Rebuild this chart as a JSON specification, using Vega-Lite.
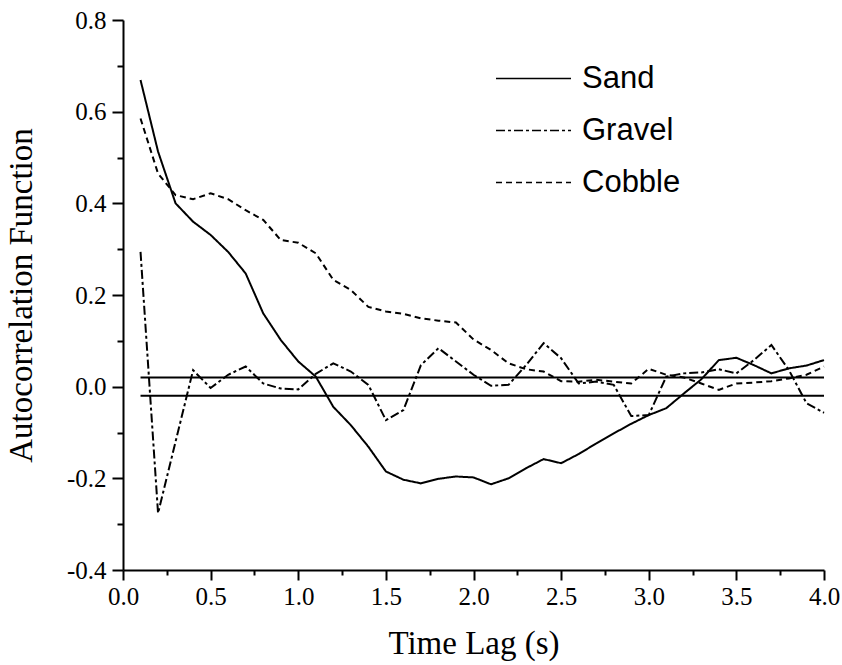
{
  "$schema": "https://vega.github.io/schema/vega-lite/v6.json",
  "width": 701,
  "height": 550,
  "autosize": "none",
  "padding": {"left": 123, "top": 20, "right": 18, "bottom": 95},
  "background": "white",
  "config": {
    "view": {"stroke": null},
    "axis": {
      "grid": false,
      "domainColor": "black",
      "domainWidth": 2,
      "tickColor": "black",
      "tickWidth": 2,
      "labelColor": "black",
      "labelFont": "Liberation Serif",
      "labelFontSize": 25,
      "titleFont": "Liberation Serif",
      "titleFontSize": 33,
      "titleFontWeight": "normal",
      "titleColor": "black"
    }
  },
  "datasets": {
    "acf": [
      {"series": "Sand", "lag": 0.1, "acf": 0.669},
      {"series": "Sand", "lag": 0.2, "acf": 0.513},
      {"series": "Sand", "lag": 0.3, "acf": 0.40},
      {"series": "Sand", "lag": 0.4, "acf": 0.36},
      {"series": "Sand", "lag": 0.5, "acf": 0.331},
      {"series": "Sand", "lag": 0.6, "acf": 0.294},
      {"series": "Sand", "lag": 0.7, "acf": 0.247},
      {"series": "Sand", "lag": 0.8, "acf": 0.16},
      {"series": "Sand", "lag": 0.9, "acf": 0.102},
      {"series": "Sand", "lag": 1.0, "acf": 0.055},
      {"series": "Sand", "lag": 1.1, "acf": 0.022},
      {"series": "Sand", "lag": 1.2, "acf": -0.044},
      {"series": "Sand", "lag": 1.3, "acf": -0.084},
      {"series": "Sand", "lag": 1.4, "acf": -0.131},
      {"series": "Sand", "lag": 1.5, "acf": -0.185},
      {"series": "Sand", "lag": 1.6, "acf": -0.203},
      {"series": "Sand", "lag": 1.7, "acf": -0.211},
      {"series": "Sand", "lag": 1.8, "acf": -0.201},
      {"series": "Sand", "lag": 1.9, "acf": -0.196},
      {"series": "Sand", "lag": 2.0, "acf": -0.198},
      {"series": "Sand", "lag": 2.1, "acf": -0.213},
      {"series": "Sand", "lag": 2.2, "acf": -0.2},
      {"series": "Sand", "lag": 2.3, "acf": -0.178},
      {"series": "Sand", "lag": 2.4, "acf": -0.158},
      {"series": "Sand", "lag": 2.5, "acf": -0.167},
      {"series": "Sand", "lag": 2.6, "acf": -0.147},
      {"series": "Sand", "lag": 2.7, "acf": -0.124},
      {"series": "Sand", "lag": 2.8, "acf": -0.102},
      {"series": "Sand", "lag": 2.9, "acf": -0.081},
      {"series": "Sand", "lag": 3.0, "acf": -0.062},
      {"series": "Sand", "lag": 3.1, "acf": -0.047},
      {"series": "Sand", "lag": 3.2, "acf": -0.015},
      {"series": "Sand", "lag": 3.3, "acf": 0.016},
      {"series": "Sand", "lag": 3.4, "acf": 0.058},
      {"series": "Sand", "lag": 3.5, "acf": 0.063},
      {"series": "Sand", "lag": 3.6, "acf": 0.047},
      {"series": "Sand", "lag": 3.7, "acf": 0.029},
      {"series": "Sand", "lag": 3.8, "acf": 0.04},
      {"series": "Sand", "lag": 3.9, "acf": 0.046},
      {"series": "Sand", "lag": 4.0, "acf": 0.058},
      {"series": "Gravel", "lag": 0.1, "acf": 0.294},
      {"series": "Gravel", "lag": 0.2, "acf": -0.276},
      {"series": "Gravel", "lag": 0.3, "acf": -0.12},
      {"series": "Gravel", "lag": 0.4, "acf": 0.036},
      {"series": "Gravel", "lag": 0.5, "acf": -0.003},
      {"series": "Gravel", "lag": 0.6, "acf": 0.026},
      {"series": "Gravel", "lag": 0.7, "acf": 0.044},
      {"series": "Gravel", "lag": 0.8, "acf": 0.007},
      {"series": "Gravel", "lag": 0.9, "acf": -0.004},
      {"series": "Gravel", "lag": 1.0, "acf": -0.006},
      {"series": "Gravel", "lag": 1.1, "acf": 0.028},
      {"series": "Gravel", "lag": 1.2, "acf": 0.051},
      {"series": "Gravel", "lag": 1.3, "acf": 0.033},
      {"series": "Gravel", "lag": 1.4, "acf": 0.004},
      {"series": "Gravel", "lag": 1.5, "acf": -0.073},
      {"series": "Gravel", "lag": 1.6, "acf": -0.051},
      {"series": "Gravel", "lag": 1.7, "acf": 0.047},
      {"series": "Gravel", "lag": 1.8, "acf": 0.084},
      {"series": "Gravel", "lag": 1.9, "acf": 0.055},
      {"series": "Gravel", "lag": 2.0, "acf": 0.026},
      {"series": "Gravel", "lag": 2.1, "acf": 0.002},
      {"series": "Gravel", "lag": 2.2, "acf": 0.004},
      {"series": "Gravel", "lag": 2.3, "acf": 0.047},
      {"series": "Gravel", "lag": 2.4, "acf": 0.095},
      {"series": "Gravel", "lag": 2.5, "acf": 0.062},
      {"series": "Gravel", "lag": 2.6, "acf": 0.007},
      {"series": "Gravel", "lag": 2.7, "acf": 0.011},
      {"series": "Gravel", "lag": 2.8, "acf": 0.004},
      {"series": "Gravel", "lag": 2.9, "acf": -0.064},
      {"series": "Gravel", "lag": 3.0, "acf": -0.062},
      {"series": "Gravel", "lag": 3.1, "acf": 0.022},
      {"series": "Gravel", "lag": 3.2, "acf": 0.029},
      {"series": "Gravel", "lag": 3.3, "acf": 0.031},
      {"series": "Gravel", "lag": 3.4, "acf": 0.038},
      {"series": "Gravel", "lag": 3.5, "acf": 0.029},
      {"series": "Gravel", "lag": 3.6, "acf": 0.058},
      {"series": "Gravel", "lag": 3.7, "acf": 0.091},
      {"series": "Gravel", "lag": 3.8, "acf": 0.036},
      {"series": "Gravel", "lag": 3.9, "acf": -0.036},
      {"series": "Gravel", "lag": 4.0, "acf": -0.057},
      {"series": "Cobble", "lag": 0.1, "acf": 0.585},
      {"series": "Cobble", "lag": 0.2, "acf": 0.465},
      {"series": "Cobble", "lag": 0.3, "acf": 0.418},
      {"series": "Cobble", "lag": 0.4, "acf": 0.409},
      {"series": "Cobble", "lag": 0.5, "acf": 0.422},
      {"series": "Cobble", "lag": 0.6, "acf": 0.409},
      {"series": "Cobble", "lag": 0.7, "acf": 0.385},
      {"series": "Cobble", "lag": 0.8, "acf": 0.364},
      {"series": "Cobble", "lag": 0.9, "acf": 0.32},
      {"series": "Cobble", "lag": 1.0, "acf": 0.314},
      {"series": "Cobble", "lag": 1.1, "acf": 0.291},
      {"series": "Cobble", "lag": 1.2, "acf": 0.233},
      {"series": "Cobble", "lag": 1.3, "acf": 0.211},
      {"series": "Cobble", "lag": 1.4, "acf": 0.174},
      {"series": "Cobble", "lag": 1.5, "acf": 0.164},
      {"series": "Cobble", "lag": 1.6, "acf": 0.159},
      {"series": "Cobble", "lag": 1.7, "acf": 0.149},
      {"series": "Cobble", "lag": 1.8, "acf": 0.144},
      {"series": "Cobble", "lag": 1.9, "acf": 0.14},
      {"series": "Cobble", "lag": 2.0, "acf": 0.103},
      {"series": "Cobble", "lag": 2.1, "acf": 0.08},
      {"series": "Cobble", "lag": 2.2, "acf": 0.051},
      {"series": "Cobble", "lag": 2.3, "acf": 0.038},
      {"series": "Cobble", "lag": 2.4, "acf": 0.033},
      {"series": "Cobble", "lag": 2.5, "acf": 0.012},
      {"series": "Cobble", "lag": 2.6, "acf": 0.011},
      {"series": "Cobble", "lag": 2.7, "acf": 0.015},
      {"series": "Cobble", "lag": 2.8, "acf": 0.011},
      {"series": "Cobble", "lag": 2.9, "acf": 0.007},
      {"series": "Cobble", "lag": 3.0, "acf": 0.039},
      {"series": "Cobble", "lag": 3.1, "acf": 0.026},
      {"series": "Cobble", "lag": 3.2, "acf": 0.02},
      {"series": "Cobble", "lag": 3.3, "acf": 0.007},
      {"series": "Cobble", "lag": 3.4, "acf": -0.007},
      {"series": "Cobble", "lag": 3.5, "acf": 0.007},
      {"series": "Cobble", "lag": 3.6, "acf": 0.009},
      {"series": "Cobble", "lag": 3.7, "acf": 0.012},
      {"series": "Cobble", "lag": 3.8, "acf": 0.018},
      {"series": "Cobble", "lag": 3.9, "acf": 0.026},
      {"series": "Cobble", "lag": 4.0, "acf": 0.044}
    ],
    "bounds": [
      {"start": 0.1, "end": 4.0, "level": 0.02},
      {"start": 0.1, "end": 4.0, "level": -0.02}
    ]
  },
  "layer": [
    {
      "data": {"name": "bounds"},
      "mark": {"type": "rule", "color": "black", "strokeWidth": 2},
      "encoding": {
        "x": {"field": "start", "type": "quantitative", "scale": {"domain": [0, 4], "nice": false, "zero": false}},
        "x2": {"field": "end"},
        "y": {"field": "level", "type": "quantitative", "scale": {"domain": [-0.4, 0.8], "nice": false, "zero": false}}
      }
    },
    {
      "data": {"name": "acf"},
      "mark": {"type": "line", "color": "black", "strokeWidth": 2},
      "encoding": {
        "x": {
          "field": "lag", "type": "quantitative",
          "scale": {"domain": [0, 4], "nice": false, "zero": false},
          "axis": {
            "title": "Time Lag (s)",
            "values": [0, 0.25, 0.5, 0.75, 1, 1.25, 1.5, 1.75, 2, 2.25, 2.5, 2.75, 3, 3.25, 3.5, 3.75, 4],
            "format": ".1f",
            "labelExpr": "round(datum.value*4) % 2 === 1 ? '' : datum.label",
            "tickSize": {"condition": {"test": "round(datum.value*4) % 2 === 1", "value": 5}, "value": 10},
            "labelPadding": 4,
            "titlePadding": 18,
            "labelFlush": false
          }
        },
        "y": {
          "field": "acf", "type": "quantitative",
          "scale": {"domain": [-0.4, 0.8], "nice": false, "zero": false},
          "axis": {
            "title": "Autocorrelation Function",
            "titleFontSize": 33,
            "values": [-0.4, -0.3, -0.2, -0.1, 0, 0.1, 0.2, 0.3, 0.4, 0.5, 0.6, 0.7, 0.8],
            "format": ".1f",
            "labelExpr": "abs(round(datum.value*10)) % 2 === 1 ? '' : replace(datum.label, '\u2212', '-')",
            "tickSize": {"condition": {"test": "abs(round(datum.value*10)) % 2 === 1", "value": 6}, "value": 11},
            "labelPadding": 6,
            "titlePadding": 28,
            "labelFlush": false
          }
        },
        "strokeDash": {
          "field": "series", "type": "nominal",
          "scale": {"domain": ["Sand", "Gravel", "Cobble"], "range": [[1, 0], [9, 3, 3, 3], [6, 4]]},
          "legend": {
            "title": null,
            "orient": "none",
            "legendX": 365,
            "legendY": 43,
            "symbolType": "M-1,0H9",
            "symbolSize": 225,
            "symbolStrokeWidth": 1.5,
            "symbolStrokeColor": "black",
            "labelFont": "Liberation Sans",
            "labelFontSize": 31,
            "labelColor": "black",
            "labelOffset": 63,
            "rowPadding": 20
          }
        }
      }
    }
  ]
}
